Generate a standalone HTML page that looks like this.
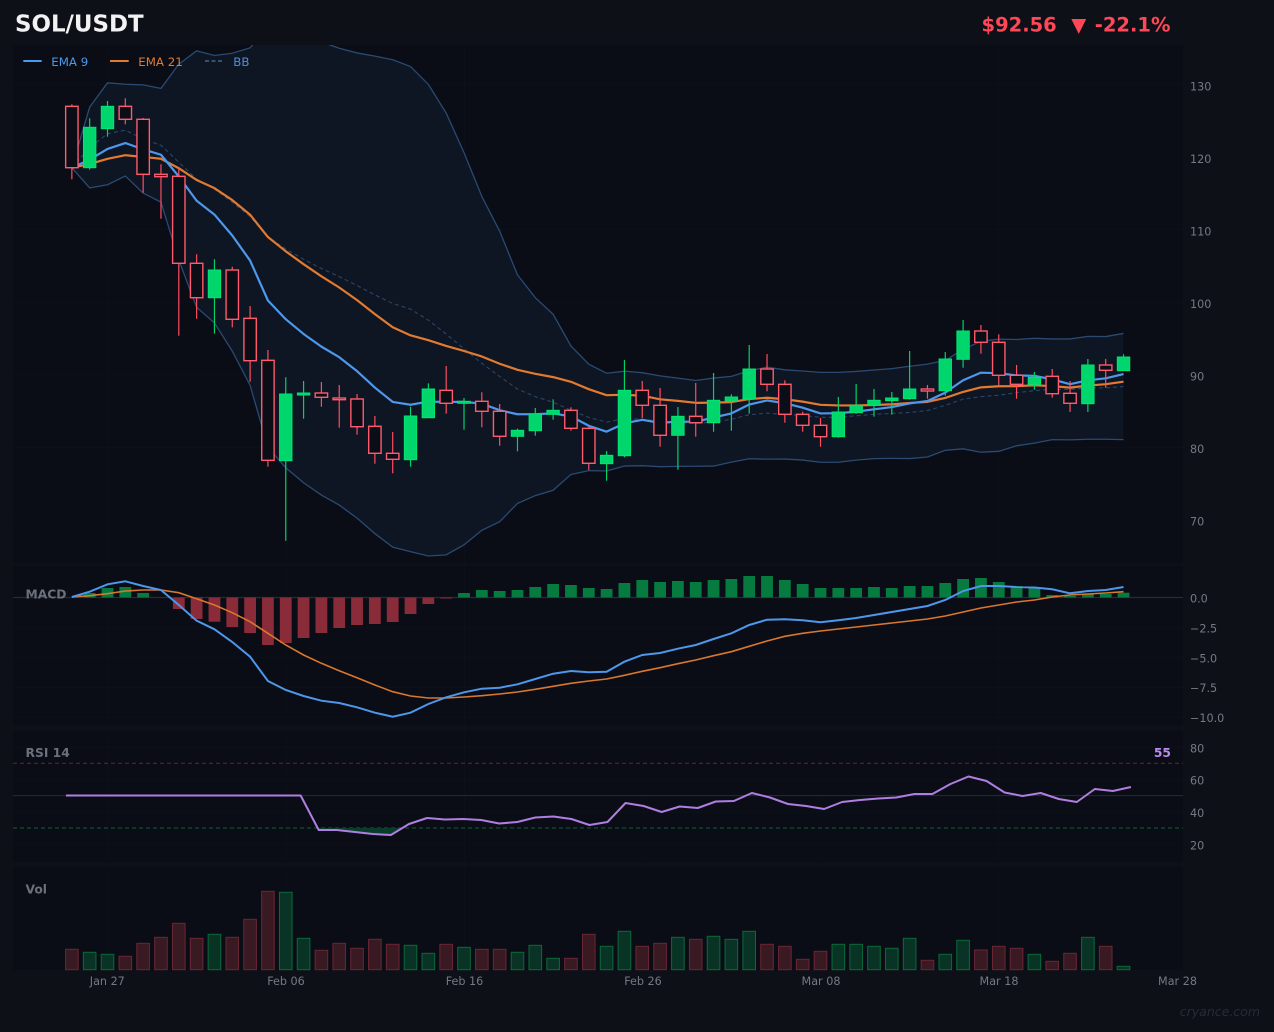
<!DOCTYPE html>
<html><head><meta charset="utf-8">
<style>
html,body{margin:0;padding:0;background:#0d1017;}
svg{display:block;font-family:"DejaVu Sans","Liberation Sans",sans-serif;}
</style></head>
<body>
<svg id="c" width="1274" height="1032" viewBox="0 0 1274 1032" xmlns="http://www.w3.org/2000/svg">
<defs>
<clipPath id="cm"><rect x="13" y="45" width="1170" height="518"/></clipPath>
<clipPath id="crsi"><rect x="13" y="827.9" width="1170" height="34"/></clipPath>
</defs>
<rect width="1274" height="1032" fill="#0d1017"/>
<rect x="13" y="45" width="1170" height="518" fill="#0a0d15"/>
<rect x="13" y="566" width="1170" height="159" fill="#0a0d15"/>
<rect x="13" y="731" width="1170" height="131" fill="#0a0d15"/>
<rect x="13" y="867" width="1170" height="103" fill="#0a0d15"/>
<g id="grid"></g>
<g id="main" clip-path="url(#cm)"></g>
<g id="macd"></g>
<g id="rsi"></g>
<g id="vol"></g>

<!-- header -->
<text x="15" y="31.7" font-size="22.9" font-weight="bold" fill="#f2f2f2">SOL/USDT</text>
<text x="981.5" y="31.7" font-size="19.5" font-weight="bold" fill="#ff4757">$92.56</text>
<text x="1078.8" y="31.7" font-size="19.5" font-weight="bold" fill="#ff4757" text-anchor="middle">▼</text>
<text x="1170.5" y="31.7" font-size="19.5" font-weight="bold" fill="#ff4757" text-anchor="end">-22.1%</text>

<!-- legend -->
<line x1="23.3" y1="61" x2="41.7" y2="61" stroke="#4d97ec" stroke-width="2"/>
<text x="51.3" y="66" font-size="11.8" fill="#4d97ec">EMA 9</text>
<line x1="110" y1="61" x2="128.7" y2="61" stroke="#e27a30" stroke-width="2"/>
<text x="138.3" y="66" font-size="11.8" fill="#e27a30">EMA 21</text>
<line x1="205" y1="61" x2="223" y2="61" stroke="#4f74a0" stroke-width="1.3" stroke-dasharray="4,2.5"/>
<text x="233.3" y="66" font-size="11.8" fill="#4d8fe0">BB</text>

<!-- price axis -->
<g font-size="11.2" fill="#737984">
<text x="1190" y="90.5">130</text>
<text x="1190" y="163">120</text>
<text x="1190" y="235.5">110</text>
<text x="1190" y="308">100</text>
<text x="1190" y="380.5">90</text>
<text x="1190" y="453">80</text>
<text x="1190" y="525.5">70</text>
<text x="1190" y="602.7">0.0</text>
<text x="1190" y="632.7">−2.5</text>
<text x="1190" y="662.7">−5.0</text>
<text x="1190" y="692.2">−7.5</text>
<text x="1190" y="721.9">−10.0</text>
<text x="1190" y="752.7">80</text>
<text x="1190" y="784.5">60</text>
<text x="1190" y="816.8">40</text>
<text x="1190" y="849.3">20</text>
</g>
<g font-size="11.2" fill="#737984" text-anchor="middle">
<text x="107.3" y="985">Jan 27</text>
<text x="286" y="985">Feb 06</text>
<text x="464.5" y="985">Feb 16</text>
<text x="643" y="985">Feb 26</text>
<text x="821" y="985">Mar 08</text>
<text x="999" y="985">Mar 18</text>
<text x="1177.5" y="985">Mar 28</text>
</g>

<!-- panel labels -->
<g font-size="12.3" font-weight="bold" fill="#6a707c">
<text x="25.5" y="598.3">MACD</text>
<text x="25.5" y="757">RSI 14</text>
<text x="25.5" y="893.3">Vol</text>
</g>
<text x="1171" y="757" font-size="12.3" font-weight="bold" fill="#b98af0" text-anchor="end">55</text>

<text x="1260" y="1016" font-size="12.5" font-style="italic" fill="#262b36" text-anchor="end">cryance.com</text>
</svg>
<script>
(function(){
const NS="http://www.w3.org/2000/svg";
function el(p,tag,a){const e=document.createElementNS(NS,tag);for(const k in a)e.setAttribute(k,a[k]);p.appendChild(e);return e;}
const X=i=>71.85+17.825*i;
const XR=i=>66+18.05*i;
const K=[
[0,106.3,167.7,104.3,179.3],[1,127.3,167.7,118.3,169.7],[1,106.3,128.7,101,136.7],[0,106.3,119.3,98.3,124.3],
[0,119.3,174.3,118,192.7],[0,174.3,176.7,164.3,218.7],[0,176.3,263.3,168.3,335.7],[0,263.3,297.7,254.3,318.7],
[1,270,297.7,259.3,333.7],[0,270,319.3,266.7,327.3],[0,318.3,360.7,306,381.7],[0,360.3,460.3,350,466.7],
[1,394,460.7,377.3,540.7],[1,393,395,381,418.7],[0,393,397.3,382,406.7],[0,398,399.7,385,427.7],
[0,399,426.7,394,434.7],[0,426.3,453.3,416,463.7],[0,453.3,459.3,432,473.3],[1,416,459.7,406.7,466.7],
[1,389,417.7,383.3,417.7],[0,390.3,403.3,366,413.7],[1,401.3,403.3,398,429.7],[0,401.3,411.3,392.3,427.3],
[0,411.3,436.3,404,445.7],[1,430.3,436.3,428.7,451.3],[1,414,430.7,408,435.7],[1,410.3,414.3,399.3,419.7],
[0,410.3,428.3,407.3,430.7],[0,428.3,463.3,426.7,470],[1,455.3,463.7,451,480.7],[1,390.3,455.7,360,457.3],
[0,390.3,405.3,381,418],[0,405.3,435.3,388,446.7],[1,416.3,435.3,407,469.7],[0,416.3,422.7,383,436.7],
[1,400.3,422.7,373,431.7],[1,397,401,394.3,430.7],[1,369,398.7,345,413.7],[0,369,384.3,354,391.3],
[0,384.3,414.3,380.3,422.7],[0,414.3,425.3,411.7,431.7],[0,425.3,436.7,418,446.7],[1,412,436.7,397,437.7],
[1,405.3,412.7,384,413.7],[1,400.3,405.3,389,416.7],[1,398,400.7,392,414.7],[1,389,398.7,351,399.7],
[0,389,391,385,398.7],[1,359,390.7,352,395.7],[1,331,359.3,320,367.7],[0,331,342.3,325,353.7],
[0,342.3,375.3,334.3,385.7],[0,375.3,384.3,365,398.7],[1,377.3,384.3,372,389.7],[0,376.3,393.7,369,397.7],
[0,393.3,403.3,381,412],[1,365,403.7,359,412],[0,365,370.3,359,387.7],[1,357,370.7,354.3,370.7]];
const N=K.length;
const cl=K.map(k=>k[0]?k[1]:k[2]);
function ema(a,n){const al=2/(n+1);const r=[a[0]];for(let i=1;i<a.length;i++)r.push(r[i-1]+al*(a[i]-r[i-1]));return r;}
const e9=ema(cl,9),e21=ema(cl,21);
const mid=[],up=[],lo=[];
for(let i=0;i<N;i++){const s=cl.slice(Math.max(0,i-19),i+1);const m=s.reduce((a,b)=>a+b,0)/s.length;
const v=s.reduce((a,b)=>a+(b-m)*(b-m),0)/s.length;const sd=Math.sqrt(v);mid.push(m);up.push(m-2*sd);lo.push(m+2*sd);}
function pts(arr,xf){return arr.map((y,i)=>xf(i).toFixed(2)+','+y.toFixed(2)).join(' ');}

// grid (very faint)
const G=document.getElementById('grid');
const gc="#0c1018";
[107.3,286,464.5,643,821,999].forEach(x=>{
 [[45,563],[566,725],[731,862],[867,970]].forEach(r=>el(G,'line',{x1:x,x2:x,y1:r[0],y2:r[1],stroke:gc,'stroke-width':1}));
});
for(let k=0;k<7;k++){const y=84.5+k*72.58;el(G,'line',{x1:13,x2:1183,y1:y,y2:y,stroke:gc,'stroke-width':1});}
[627.5,657.5,687.5,717.5].forEach(y=>el(G,'line',{x1:13,x2:1183,y1:y,y2:y,stroke:gc,'stroke-width':1}));
[747.2,779.5,811.7,844].forEach(y=>el(G,'line',{x1:13,x2:1183,y1:y,y2:y,stroke:gc,'stroke-width':1}));

// main
const M=document.getElementById('main');
let poly=up.map((y,i)=>X(i).toFixed(2)+','+y.toFixed(2));
for(let i=N-1;i>=0;i--)poly.push(X(i).toFixed(2)+','+lo[i].toFixed(2));
el(M,'polygon',{points:poly.join(' '),fill:'#0e1523'});
el(M,'polyline',{points:pts(up,X),fill:'none',stroke:'#2a4a72','stroke-width':1.3});
el(M,'polyline',{points:pts(lo,X),fill:'none',stroke:'#2a4a72','stroke-width':1.3});
el(M,'polyline',{points:pts(mid,X),fill:'none',stroke:'#2a4668','stroke-width':1.1,'stroke-dasharray':'4,3'});
el(M,'polyline',{points:pts(e21,X),fill:'none',stroke:'#e27a30','stroke-width':2.2,'stroke-linejoin':'round'});
el(M,'polyline',{points:pts(e9,X),fill:'none',stroke:'#4d97ec','stroke-width':2.2,'stroke-linejoin':'round'});
for(let i=0;i<N;i++){
 const k=K[i],x=X(i),g=k[0];
 const wc=g?'#00d26a':'#ff4d61';
 el(M,'line',{x1:x,x2:x,y1:k[3],y2:k[4],stroke:wc,'stroke-width':1.2});
 let t=k[1],b=k[2];if(b-t<1.6){const c=(t+b)/2;t=c-0.8;b=c+0.8;}
 if(g) el(M,'rect',{x:x-6.2,y:t,width:12.4,height:b-t,fill:'#00d66b',stroke:'#00e474','stroke-width':1});
 else el(M,'rect',{x:x-6.2,y:t,width:12.4,height:b-t,fill:'#0b0e17',stroke:'#ff5a6d','stroke-width':1.4});
}

// MACD
const MD=document.getElementById('macd');
const macd=[597,591.7,584.3,581.3,586,590,605,620.7,629.3,642,656.7,681,690,696,700.7,703,707.3,712.7,716.7,712.7,704,697.3,692.3,688.7,687.7,684.3,679,673.7,671,672.3,671.7,661.7,655,653,648.7,645,639,633.3,625,619.7,619.3,620.3,622.3,620.3,618,615,612,609,606,600,591,586,586,587,587.5,589.3,593.3,591,590,587];
const sig=[597,595.7,593.7,591,590,590,592.7,598.7,605,612.7,621.7,633.3,645,655,663.3,670.7,677.7,685,691.7,696,698,698,697,695.7,694,692,689.3,686.3,683.3,681,679,675.3,671.3,667.7,663.7,660,655.7,651.7,646.3,641,636.3,633.3,631,629,627,625,623,621,619,616,612,608,605,602,600,597,595,594,593,591.7];
const hist=[598,593,588,587,593,598,609,619,621.7,627,633,645,643,638,633,628,625,624,622,614,604,598.5,593,590,591,590,587,584,585,588,589,583,580,582,581,582,580,579,576,576,580,584,588,588,588,587,588,586,586,583,579,578,582,586,588,595,596,594,594,592.7];
const Z=597.5;
el(MD,'line',{x1:13,x2:1183,y1:Z,y2:Z,stroke:'#262b35','stroke-width':1.2});
for(let i=0;i<N;i++){const h=hist[i];if(Math.abs(h-Z)<0.6)continue;
 const t=Math.min(h,Z),b=Math.max(h,Z);
 el(MD,'rect',{x:X(i)-5.9,y:t,width:11.8,height:b-t,fill:h<Z?'#077a40':'#8a2b3a'});}
el(MD,'polyline',{points:pts(sig,X),fill:'none',stroke:'#d9772e','stroke-width':1.6});
el(MD,'polyline',{points:pts(macd,X),fill:'none',stroke:'#4d97ec','stroke-width':2});

// RSI
const R=document.getElementById('rsi');
const rsi=[795.5,795.5,795.5,795.5,795.5,795.5,795.5,795.5,795.5,795.5,795.5,795.5,795.5,795.5,830,830,832,834,835,824,818,819.5,819,820,823.5,822,817.5,816.5,819,825,822,803,806,812,806.5,808,801.5,801,793,797.5,804,806,809,802,800,798.5,797.5,794,794,784,776.5,781,792.5,796,793,799,802,789,791,787];
el(R,'line',{x1:13,x2:1183,y1:763.3,y2:763.3,stroke:'#5a2331','stroke-width':1.1,'stroke-dasharray':'4,3'});
el(R,'line',{x1:13,x2:1183,y1:795.6,y2:795.6,stroke:'#23272f','stroke-width':1.1});
el(R,'line',{x1:13,x2:1183,y1:827.9,y2:827.9,stroke:'#0b5a36','stroke-width':1.1,'stroke-dasharray':'4,3'});
let rp=rsi.map((y,i)=>XR(i).toFixed(2)+','+y.toFixed(2));
rp.push(XR(N-1).toFixed(2)+',827.9');rp.push(XR(0).toFixed(2)+',827.9');
el(R,'polygon',{points:rp.join(' '),fill:'#0a3d29','clip-path':'url(#crsi)'});
el(R,'polyline',{points:pts(rsi,XR),fill:'none',stroke:'#b07ee2','stroke-width':2,'stroke-linejoin':'round'});

// Volume
const V=document.getElementById('vol');
const vol=[949.3,952.3,954.3,956.3,943.3,937.3,923.3,938.3,934.3,937.3,919.3,891.3,892.3,938.3,950.3,943.3,948.3,939.3,944.3,945.3,953.3,944.3,947.3,949.3,949.3,952.3,945.3,958.3,958.3,934.3,946.3,931.3,946.3,943.3,937.3,939.3,936.3,939.3,931.3,944.3,946.3,959.3,951.3,944.3,944.3,946.3,948.3,938.3,960.3,954.3,940.3,950,946.3,948.3,954.3,961.3,953.3,937.3,946.3,966.3];
for(let i=0;i<N;i++){const g=K[i][0];const t=vol[i];
 el(V,'rect',{x:X(i)-6.3,y:t,width:12.6,height:969.7-t,fill:g?'#093425':'#3a1a22',stroke:g?'#0a693b':'#6b2634','stroke-width':1});}
})();
</script>
</body></html>
